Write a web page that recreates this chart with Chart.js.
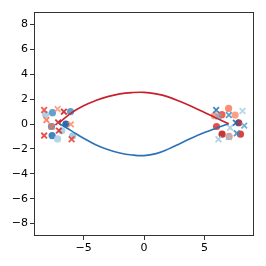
<!DOCTYPE html>
<html lang="en">
<head>
<meta charset="UTF-8">
<title>Two clusters and curves</title>
<script src="https://cdn.jsdelivr.net/npm/chart.js@4/dist/chart.umd.min.js"></script>
<style>
  html, body { margin: 0; padding: 0; background: #fff; }
</style>
</head>
<body>
<canvas id="chart" width="266" height="266"></canvas>
<script>
// curve samples
const curveX = [-7, -6, -5, -4, -3, -2, -1, 0, 1, 2, 3, 4, 5, 6, 7];
const redCurve = [0.12, 0.9, 1.47, 1.88, 2.2, 2.42, 2.52, 2.54, 2.42, 2.18, 1.8, 1.38, 0.93, 0.47, 0.02];
const blueCurve = [0.03, -0.55, -1.15, -1.66, -2.05, -2.33, -2.49, -2.54, -2.38, -2.02, -1.56, -1.1, -0.69, -0.32, 0.03];

// left cluster: red crosses
const redCrossX = [-8.26, -8.07, -8.26, -7.65, -7.15, -7.1, -7.04, -6.63, -6.05, -5.99];
const redCrossY = [1.12, 0.32, -0.93, -0.2, 1.2, 0.13, -0.53, 0.99, -0.03, -1.23];
const redCrossColors = ['#ef3b2c', '#fb6a4a', '#e32f27', '#fb7050', '#fc9272', '#cb181d', '#d92523', '#cb181d', '#fc8a6a', '#ef3b2c'];

// left cluster: blue circles
const blueDotX = [-8.15, -7.57, -7.6, -7.65, -7.15, -6.8, -6.46, -6.08, -5.9];
const blueDotY = [0.77, 0.91, -0.93, -0.2, -1.2, -0.55, 0.0, 0.99, -0.96];
const blueDotColors = ['#9ecae1', '#4292c6', '#2171b5', '#3787c0', '#a6cee4', '#9ecae1', '#08519c', '#4292c6', '#8fc2de'];

// right cluster: red circles
const redDotX = [5.83, 6.0, 6.44, 6.46, 7.0, 7.54, 7.83, 7.04, 7.98];
const redDotY = [0.67, -0.2, 0.75, -0.82, 1.25, 0.72, 0.1, -1.0, -0.82];
const redDotColors = ['#fc8d6d', '#e32f27', '#f14432', '#bc141a', '#fb7b5b', '#fc8f6f', '#b11218', '#fc8060', '#d52221'];

// right cluster: blue crosses
const blueCrossX = [5.97, 6.16, 6.16, 7.02, 7.13, 7.6, 7.68, 7.02, 8.15, 8.29];
const blueCrossY = [1.12, -1.23, 0.59, 0.72, -0.3, 0.1, -0.75, -1.04, 1.04, -0.13];
const blueCrossColors = ['#2171b5', '#9ecae1', '#6baed6', '#3f8fc5', '#a0cbe2', '#1b69af', '#3a8ac2', '#94c4df', '#a9cfe5', '#5ba3d0'];

const xTicks = [-5, 0, 5];
const yTicks = [-8, -6, -4, -2, 0, 2, 4, 6, 8];

function pts(xs, ys) {
    return xs.map((x, i) => ({ x: x, y: ys[i] }));
}

function alpha(colors, a) {
    return colors.map(c => {
        const r = parseInt(c.slice(1, 3), 16), g = parseInt(c.slice(3, 5), 16), b = parseInt(c.slice(5, 7), 16);
        return 'rgba(' + r + ',' + g + ',' + b + ',' + a + ')';
    });
}

function minus(v) {
    return String(v).replace('-', '\u2212');
}

// matplotlib style box around the plot
const frame = {
    id: 'frame',
    afterDatasetsDraw(chart) {
        const a = chart.chartArea, ctx = chart.ctx;
        ctx.save();
        ctx.strokeStyle = '#333';
        ctx.lineWidth = 1;
        ctx.strokeRect(Math.round(a.left) + 0.5, Math.round(a.top) + 0.5,
            Math.round(a.right - a.left) - 1, Math.round(a.bottom - a.top) - 1);
        ctx.restore();
    }
};

new Chart(document.getElementById('chart'), {
    type: 'scatter',
    data: {
        datasets: [
            {
                type: 'line',
                data: pts(curveX, redCurve),
                borderColor: '#c8202a',
                borderWidth: 1.6,
                pointRadius: 0,
                tension: 0.4,
                fill: false
            },
            {
                type: 'line',
                data: pts(curveX, blueCurve),
                borderColor: '#2a72b5',
                borderWidth: 1.6,
                pointRadius: 0,
                tension: 0.4,
                fill: false
            },
            {
                data: pts(redCrossX, redCrossY),
                pointStyle: 'crossRot',
                pointRadius: 4,
                borderWidth: 1.8,
                borderColor: alpha(redCrossColors, 0.85),
                backgroundColor: alpha(redCrossColors, 0.85)
            },
            {
                data: pts(blueCrossX, blueCrossY),
                pointStyle: 'crossRot',
                pointRadius: 4,
                borderWidth: 1.8,
                borderColor: alpha(blueCrossColors, 0.85),
                backgroundColor: alpha(blueCrossColors, 0.85)
            },
            {
                data: pts(blueDotX, blueDotY),
                pointStyle: 'circle',
                pointRadius: 3.6,
                borderWidth: 0,
                backgroundColor: alpha(blueDotColors, 0.85)
            },
            {
                data: pts(redDotX, redDotY),
                pointStyle: 'circle',
                pointRadius: 3.6,
                borderWidth: 0,
                backgroundColor: alpha(redDotColors, 0.85)
            }
        ]
    },
    options: {
        responsive: false,
        animation: false,
        devicePixelRatio: 1,
        layout: { padding: { top: 12, right: 12, left: 0, bottom: 0 } },
        plugins: {
            legend: { display: false },
            tooltip: { enabled: false }
        },
        scales: {
            x: {
                type: 'linear',
                min: -9.1,
                max: 9.1,
                afterBuildTicks: s => { s.ticks = xTicks.map(v => ({ value: v })); },
                afterFit: s => { s.height = 30; },
                border: { display: false },
                grid: { drawOnChartArea: false, drawTicks: true, tickLength: 4, color: '#333' },
                ticks: {
                    padding: 2,
                    color: '#000',
                    font: { family: 'DejaVu Sans', size: 11 },
                    maxRotation: 0,
                    callback: v => minus(v)
                }
            },
            y: {
                type: 'linear',
                min: -9,
                max: 9,
                afterBuildTicks: s => { s.ticks = yTicks.map(v => ({ value: v })); },
                afterFit: s => { s.width = 34; },
                border: { display: false },
                grid: { drawOnChartArea: false, drawTicks: true, tickLength: 4, color: '#333' },
                ticks: {
                    padding: 2,
                    color: '#000',
                    font: { family: 'DejaVu Sans', size: 11 },
                    callback: v => minus(v)
                }
            }
        }
    },
    plugins: [frame]
});
</script>
</body>
</html>
